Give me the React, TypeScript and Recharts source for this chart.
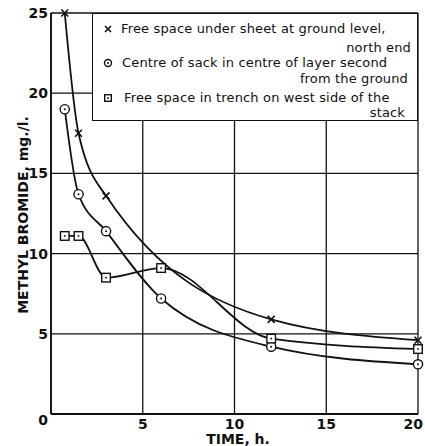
import React from 'react';
import { LineChart, Line, XAxis, YAxis, CartesianGrid, Legend } from 'recharts';

// ---- data ----
const crossTimes = [0.75, 1.5, 3, 12, 20];
const crossValues = [25, 17.5, 13.6, 5.9, 4.6];
const circleTimes = [0.75, 1.5, 3, 6, 12, 20];
const circleValues = [19, 13.7, 11.4, 7.2, 4.2, 3.1];
const squareTimes = [0.75, 1.5, 3, 6, 12, 20];
const squareValues = [11.1, 11.1, 8.5, 9.1, 4.7, 4.05];
const xTicks = [0, 5, 10, 15, 20];
const yTicks = [0, 5, 10, 15, 20, 25];
const legendLine1 = [
  'Free space under sheet at ground level,',
  'Centre of sack in centre of layer second',
  'Free space in trench on west side of the',
];
const legendLine2 = ['north end', 'from the ground', 'stack'];
const xTitle = 'TIME, h.';
const yTitle = 'METHYL BROMIDE, mg./l.';

const toRows = (xs: number[], ys: number[]) => xs.map((x, i) => ({ x, y: ys[i] }));
const crossData = toRows(crossTimes, crossValues);
const circleData = toRows(circleTimes, circleValues);
const squareData = toRows(squareTimes, squareValues);

const FONT = '"DejaVu Sans", sans-serif';
const INK = '#111';

const CrossMark = ({ cx, cy, s = 3.5 }: any) => (
  <g>
    <line x1={cx - s} y1={cy - s} x2={cx + s} y2={cy + s} stroke={INK} strokeWidth={1.6} />
    <line x1={cx - s} y1={cy + s} x2={cx + s} y2={cy - s} stroke={INK} strokeWidth={1.6} />
  </g>
);
const CircleMark = ({ cx, cy, r = 4.6 }: any) => (
  <g>
    <circle cx={cx} cy={cy} r={r} fill="#fff" stroke={INK} strokeWidth={1.4} />
    <circle cx={cx} cy={cy} r={1} fill={INK} />
  </g>
);
const SquareMark = ({ cx, cy, h = 4.3 }: any) => (
  <g>
    <rect x={cx - h} y={cy - h} width={2 * h} height={2 * h} fill="#fff" stroke={INK} strokeWidth={1.4} />
    <rect x={cx - 0.8} y={cy - 0.8} width={1.6} height={1.6} fill={INK} />
  </g>
);

const crossDot = (p: any) => <CrossMark key={`c${p.index}`} cx={p.cx} cy={p.cy} />;
const circleDot = (p: any) => <CircleMark key={`o${p.index}`} cx={p.cx} cy={p.cy} />;
const squareDot = (p: any) => <SquareMark key={`s${p.index}`} cx={p.cx} cy={p.cy} />;

const legendMarks = [CrossMark, CircleMark, SquareMark];
const line1Centers = [16, 50, 85];
const line2Centers = [35, 66, 100];
const line2Right = [6, 9, 12];
const line1Left = [28, 29, 31];

const LegendBox = () => (
  <div
    style={{
      position: 'relative',
      width: 326,
      height: 108,
      boxSizing: 'border-box',
      border: `1.5px solid ${INK}`,
      background: '#fff',
      fontFamily: FONT,
      fontSize: 13,
      letterSpacing: 0.15,
      color: INK,
    }}
  >
    {legendLine1.map((t, i) => {
      const M = legendMarks[i];
      return (
        <React.Fragment key={i}>
          <svg
            width={12}
            height={12}
            style={{ position: 'absolute', left: 9, top: line1Centers[i] - 6 - 1.5 }}
          >
            <M cx={6} cy={6} s={3} r={3.5} h={3.3} />
          </svg>
          <div
            style={{
              position: 'absolute',
              left: line1Left[i],
              top: line1Centers[i] - 8 - 1.5,
              lineHeight: '16px',
              whiteSpace: 'nowrap',
            }}
          >
            {t}
          </div>
          <div
            style={{
              position: 'absolute',
              right: line2Right[i],
              top: line2Centers[i] - 8 - 1.5,
              lineHeight: '16px',
              whiteSpace: 'nowrap',
            }}
          >
            {legendLine2[i]}
          </div>
        </React.Fragment>
      );
    })}
  </div>
);

const YTick = ({ x, y, payload }: any) => (
  <text
    x={x}
    y={payload.value === 0 ? y + 6 : y}
    textAnchor="end"
    dominantBaseline="central"
    fontFamily={FONT}
    fontWeight="bold"
    fontSize={14}
    fill={INK}
  >
    {payload.value}
  </text>
);

const XTick = ({ x, y, payload, index, visibleTicksCount }: any) => {
  if (payload.value === 0) return null;
  const last = payload.value === xTicks[xTicks.length - 1];
  return (
    <text
      x={last ? x + 6 : x}
      y={y + 10}
      textAnchor={last ? 'end' : 'middle'}
      dominantBaseline="central"
      fontFamily={FONT}
      fontWeight="bold"
      fontSize={14}
      fill={INK}
    >
      {payload.value}
    </text>
  );
};

const YTitle = () => (
  <text
    x={23}
    y={215}
    transform="rotate(-90, 23, 215)"
    textAnchor="middle"
    dominantBaseline="central"
    fontFamily={FONT}
    fontWeight="bold"
    fontSize={14}
    fill={INK}
  >
    {yTitle}
  </text>
);

const XTitle = () => (
  <text
    x={238}
    y={439}
    textAnchor="middle"
    dominantBaseline="central"
    fontFamily={FONT}
    fontWeight="bold"
    fontSize={14}
    fill={INK}
  >
    {xTitle}
  </text>
);

export default function App() {
  return (
    <div style={{ position: 'absolute', left: 0, top: 0, background: '#fff' }}>
      <LineChart width={425} height={446} margin={{ top: 13, right: 7, left: 0, bottom: 0 }}>
        <CartesianGrid stroke={INK} strokeWidth={1.3} />
        <XAxis
          type="number"
          dataKey="x"
          domain={[0, 20]}
          ticks={xTicks}
          height={32}
          tickSize={0}
          tickMargin={0}
          tick={<XTick />}
          axisLine={{ stroke: INK, strokeWidth: 1.8 }}
          label={<XTitle />}
        />
        <YAxis
          type="number"
          dataKey="y"
          domain={[0, 25]}
          ticks={yTicks}
          width={51}
          tickSize={0}
          tickMargin={3}
          tick={<YTick />}
          axisLine={{ stroke: INK, strokeWidth: 1.8 }}
          label={<YTitle />}
        />
        <Legend
          layout="horizontal"
          verticalAlign="middle"
          align="center"
          wrapperStyle={{ left: 92, top: 13, width: 326, height: 108 }}
          content={() => <LegendBox />}
        />
        <Line
          data={crossData}
          dataKey="y"
          type="monotone"
          stroke={INK}
          strokeWidth={1.8}
          dot={crossDot}
          activeDot={false}
          isAnimationActive={false}
        />
        <Line
          data={circleData}
          dataKey="y"
          type="monotone"
          stroke={INK}
          strokeWidth={1.8}
          dot={circleDot}
          activeDot={false}
          isAnimationActive={false}
        />
        <Line
          data={squareData}
          dataKey="y"
          type="monotone"
          stroke={INK}
          strokeWidth={1.8}
          dot={squareDot}
          activeDot={false}
          isAnimationActive={false}
        />
      </LineChart>
    </div>
  );
}
